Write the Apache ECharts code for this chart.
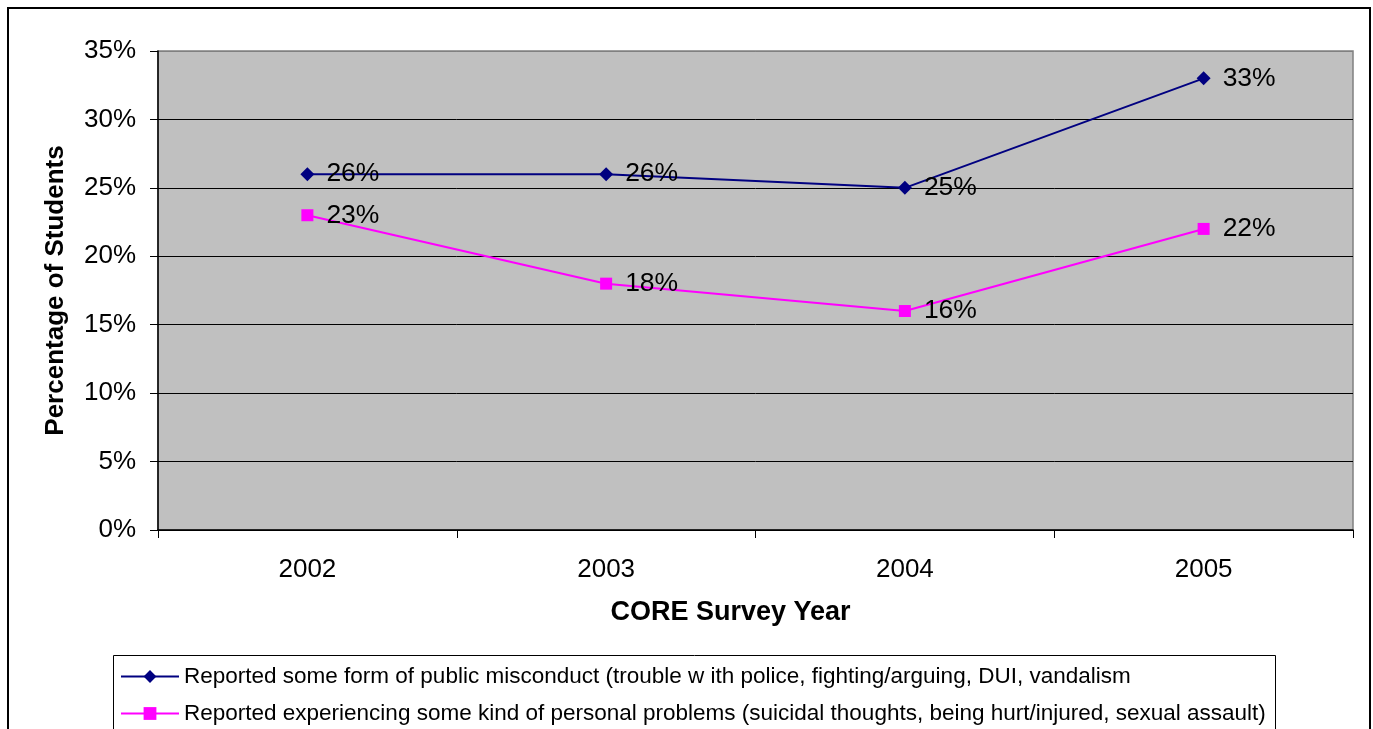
<!DOCTYPE html>
<html>
<head>
<meta charset="utf-8">
<script src="https://cdn.jsdelivr.net/npm/echarts@6/dist/echarts.min.js"></script>
<style>
html,body{margin:0;padding:0;background:#fff;}
#chart{width:1373px;height:729px;}
</style>
</head>
<body>
<div id="chart"></div>
<script>
var categories = ['2002', '2003', '2004', '2005'];
var misconductValues = [26, 26, 25, 33];
var personalValues = [23, 18, 16, 22];
var seriesNames = [
  'Reported some form of public misconduct (trouble w ith police, fighting/arguing, DUI, vandalism',
  'Reported experiencing some kind of personal problems (suicidal thoughts, being hurt/injured, sexual assault)'
];
var yTicks = [0, 5, 10, 15, 20, 25, 30, 35];

var font = 'Arial, "Liberation Sans", sans-serif';
var legendText = { fontSize: 22.5, color: '#000', fontFamily: font };
var chart = echarts.init(document.getElementById('chart'));
chart.setOption({
  animation: false,
  backgroundColor: '#fff',
  textStyle: { fontFamily: font },
  graphic: [{
    type: 'rect',
    shape: { x: 8, y: 8, width: 1362, height: 740 },
    style: { fill: 'none', stroke: '#000', lineWidth: 2 },
    z: 100
  }, {
    type: 'rect',
    shape: { x: 113.5, y: 655.5, width: 1162, height: 100 },
    style: { fill: 'none', stroke: '#000', lineWidth: 1 },
    z: 100
  }],
  grid: {
    left: 158, right: 20, top: 51, bottom: 199,
    show: true, backgroundColor: '#C0C0C0', borderColor: '#808080', borderWidth: 1.5
  },
  legend: [{
    left: 120, top: 665, padding: 0,
    itemWidth: 58, itemHeight: 16,
    textStyle: legendText,
    data: [seriesNames[0]]
  }, {
    left: 120, top: 702, padding: 0,
    itemWidth: 58, itemHeight: 16,
    textStyle: legendText,
    data: [seriesNames[1]]
  }],
  xAxis: {
    type: 'category',
    data: categories,
    boundaryGap: true,
    name: 'CORE Survey Year',
    nameLocation: 'middle',
    nameGap: 69,
    nameTextStyle: { fontSize: 27, fontWeight: 'bold', color: '#000', fontFamily: font, padding: [0, 50, 0, 0] },
    axisLine: { lineStyle: { color: '#000', width: 1.5 } },
    axisTick: { show: true, length: 8, lineStyle: { color: '#000' } },
    axisLabel: { fontSize: 26, color: '#000', margin: 27, fontFamily: font },
    splitLine: { show: false }
  },
  yAxis: {
    type: 'value',
    min: 0, max: 35, interval: 5,
    name: 'Percentage of Students',
    nameLocation: 'middle',
    nameGap: 89,
    nameTextStyle: { fontSize: 26, fontWeight: 'bold', color: '#000', fontFamily: font },
    axisLine: { show: true, lineStyle: { color: '#000', width: 1.5 } },
    axisTick: { show: true, length: 8, lineStyle: { color: '#000' } },
    axisLabel: {
      fontSize: 26, color: '#000', margin: 22, fontFamily: font,
      formatter: function (v) { return yTicks.indexOf(v) >= 0 ? v + '%' : ''; }
    },
    splitLine: { show: true, lineStyle: { color: ['#000', '#000', '#000', '#000', '#000', '#000', '#000', '#808080'], width: 1 } }
  },
  series: [{
    name: seriesNames[0],
    type: 'line',
    data: misconductValues,
    symbol: 'diamond',
    symbolSize: 14,
    color: '#000080',
    lineStyle: { color: '#000080', width: 2 },
    itemStyle: { color: '#000080' },
    label: { show: true, position: 'right', distance: 12, fontSize: 26.5, color: '#000', formatter: '{c}%', fontFamily: font }
  }, {
    name: seriesNames[1],
    type: 'line',
    data: personalValues,
    symbol: 'rect',
    symbolSize: 12,
    color: '#FF00FF',
    lineStyle: { color: '#FF00FF', width: 2 },
    itemStyle: { color: '#FF00FF' },
    label: { show: true, position: 'right', distance: 13, fontSize: 26.5, color: '#000', formatter: '{c}%', fontFamily: font }
  }]
});
</script>
</body>
</html>
